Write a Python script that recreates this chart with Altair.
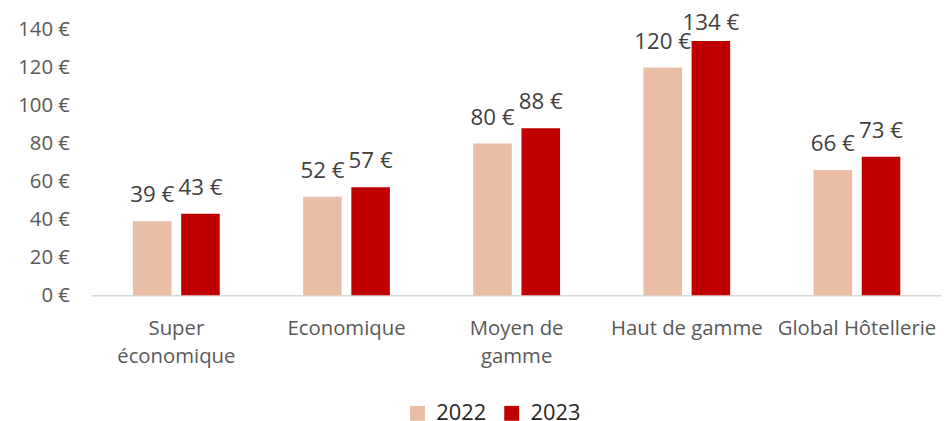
import altair as alt
import pandas as pd

categories = ["Super économique", "Economique", "Moyen de gamme", "Haut de gamme", "Global Hôtellerie"]
years = ["2022", "2023"]
values_2022 = [39, 52, 80, 120, 66]
values_2023 = [43, 57, 88, 134, 73]
y_ticks = [0, 20, 40, 60, 80, 100, 120, 140]

rows = []
for c, v in zip(categories, values_2022):
    rows.append({"cat": c, "year": "2022", "value": v})
for c, v in zip(categories, values_2023):
    rows.append({"cat": c, "year": "2023", "value": v})
df = pd.DataFrame(rows)

FONT = "Open Sans"

x_axis = alt.Axis(title=None, labelAngle=0, labelFontSize=20.5, labelColor="#595959",
                  labelFont=FONT, ticks=False, domainColor="#D9D9D9", domainWidth=1.5,
                  labelPadding=23, labelLineHeight=29, labelLimit=300,
                  labelOverlap=False,
                  labelExpr="datum.label == 'Super économique' ? ['Super','économique'] : datum.label == 'Moyen de gamme' ? ['Moyen de','gamme'] : datum.label")
y_axis = alt.Axis(title=None, values=y_ticks, tickCount=8, labelExpr="datum.value + ' €'",
                  labelFontSize=20.5, labelColor="#595959", labelFont=FONT,
                  labelOverlap=False, labelBound=False, labelFlush=False,
                  ticks=False, domain=False, grid=False, labelPadding=22)

x_enc = alt.X("cat:N", sort=categories,
              scale=alt.Scale(paddingInner=0.49, paddingOuter=0.245), axis=x_axis)
xoff = alt.XOffset("year:N", sort=years, scale=alt.Scale(paddingInner=0.2))
y_enc = alt.Y("value:Q", scale=alt.Scale(domain=[0, 140], nice=False), axis=y_axis)

bars = alt.Chart(df).mark_bar().encode(
    x=x_enc, xOffset=xoff, y=y_enc,
    color=alt.Color("year:N", sort=years,
                    scale=alt.Scale(domain=years, range=["#E9BEA4", "#C00000"]),
                    legend=alt.Legend(title=None, orient="none", legendX=318, legendY=376,
                                      direction="horizontal", symbolType="square", symbolSize=225,
                                      symbolStrokeWidth=0, labelFontSize=22, labelFont=FONT,
                                      labelColor="#262626", labelOffset=8, columnPadding=14,
                                      padding=0))
)

text_base = alt.Chart(df).encode(x=x_enc, xOffset=xoff, y=y_enc)
labels_normal = text_base.transform_filter("datum.value < 130").transform_calculate(
    lbl="datum.value + ' €'").mark_text(baseline="alphabetic", dy=-19, fontSize=22.5,
                                          font=FONT, color="#404040").encode(text="lbl:N")
labels_top = text_base.transform_filter("datum.value >= 130").transform_calculate(
    lbl="datum.value + ' €'").mark_text(baseline="alphabetic", dy=-11, fontSize=22.5,
                                          font=FONT, color="#404040").encode(text="lbl:N")

chart = alt.layer(bars, labels_normal, labels_top).properties(
    width=858, height=268,
    autosize=alt.AutoSizeParams(type="none"),
    padding={"left": 84, "top": 20, "right": 0, "bottom": 132},
).configure_view(stroke=None)

chart.save("out.html", embed_options={"renderer": "svg", "actions": False})
